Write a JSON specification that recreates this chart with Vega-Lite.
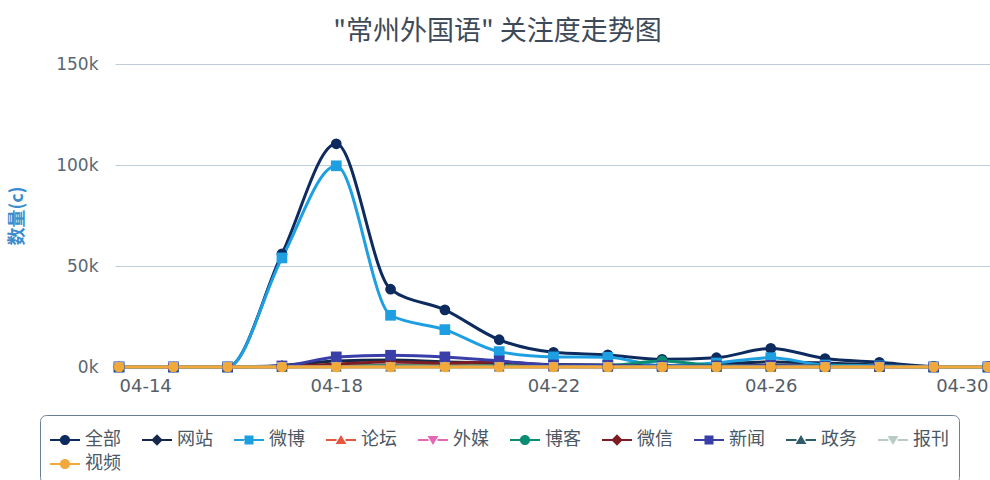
{
  "$schema": "https://vega.github.io/schema/vega-lite/v6.json",
  "width": 877,
  "height": 303,
  "autosize": "none",
  "padding": {"left": 115, "top": 64, "right": 0, "bottom": 113},
  "background": "white",
  "title": {
    "text": "\"常州外国语\" 关注度走势图",
    "font": "Noto Sans CJK SC",
    "fontSize": 27,
    "fontWeight": "normal",
    "color": "#3e4a58",
    "anchor": "middle",
    "dx": -56,
    "offset": 9
  },
  "data": {
    "values": [
      {"date": "04-14", "series": "全部", "value": 0},
      {"date": "04-15", "series": "全部", "value": 0},
      {"date": "04-16", "series": "全部", "value": 0},
      {"date": "04-17", "series": "全部", "value": 56000},
      {"date": "04-18", "series": "全部", "value": 110500},
      {"date": "04-19", "series": "全部", "value": 38500},
      {"date": "04-20", "series": "全部", "value": 28300},
      {"date": "04-21", "series": "全部", "value": 13500},
      {"date": "04-22", "series": "全部", "value": 7300},
      {"date": "04-23", "series": "全部", "value": 6000},
      {"date": "04-24", "series": "全部", "value": 3800},
      {"date": "04-25", "series": "全部", "value": 4600},
      {"date": "04-26", "series": "全部", "value": 9200},
      {"date": "04-27", "series": "全部", "value": 4200},
      {"date": "04-28", "series": "全部", "value": 2300},
      {"date": "04-29", "series": "全部", "value": 300},
      {"date": "04-30", "series": "全部", "value": 200},
      {"date": "04-14", "series": "网站", "value": 0},
      {"date": "04-15", "series": "网站", "value": 0},
      {"date": "04-16", "series": "网站", "value": 0},
      {"date": "04-17", "series": "网站", "value": 800},
      {"date": "04-18", "series": "网站", "value": 3000},
      {"date": "04-19", "series": "网站", "value": 3500},
      {"date": "04-20", "series": "网站", "value": 2500},
      {"date": "04-21", "series": "网站", "value": 2000},
      {"date": "04-22", "series": "网站", "value": 1200},
      {"date": "04-23", "series": "网站", "value": 1000},
      {"date": "04-24", "series": "网站", "value": 800},
      {"date": "04-25", "series": "网站", "value": 1500},
      {"date": "04-26", "series": "网站", "value": 2500},
      {"date": "04-27", "series": "网站", "value": 2000},
      {"date": "04-28", "series": "网站", "value": 1000},
      {"date": "04-29", "series": "网站", "value": 200},
      {"date": "04-30", "series": "网站", "value": 100},
      {"date": "04-14", "series": "微博", "value": 0},
      {"date": "04-15", "series": "微博", "value": 0},
      {"date": "04-16", "series": "微博", "value": 0},
      {"date": "04-17", "series": "微博", "value": 54000},
      {"date": "04-18", "series": "微博", "value": 99600},
      {"date": "04-19", "series": "微博", "value": 25600},
      {"date": "04-20", "series": "微博", "value": 18500},
      {"date": "04-21", "series": "微博", "value": 7600},
      {"date": "04-22", "series": "微博", "value": 5000},
      {"date": "04-23", "series": "微博", "value": 4800},
      {"date": "04-24", "series": "微博", "value": 600},
      {"date": "04-25", "series": "微博", "value": 2000},
      {"date": "04-26", "series": "微博", "value": 4600},
      {"date": "04-27", "series": "微博", "value": 1000},
      {"date": "04-28", "series": "微博", "value": 600},
      {"date": "04-29", "series": "微博", "value": 0},
      {"date": "04-30", "series": "微博", "value": 0},
      {"date": "04-14", "series": "论坛", "value": 0},
      {"date": "04-15", "series": "论坛", "value": 0},
      {"date": "04-16", "series": "论坛", "value": 0},
      {"date": "04-17", "series": "论坛", "value": 100},
      {"date": "04-18", "series": "论坛", "value": 400},
      {"date": "04-19", "series": "论坛", "value": 600},
      {"date": "04-20", "series": "论坛", "value": 500},
      {"date": "04-21", "series": "论坛", "value": 700},
      {"date": "04-22", "series": "论坛", "value": 300},
      {"date": "04-23", "series": "论坛", "value": 200},
      {"date": "04-24", "series": "论坛", "value": 100},
      {"date": "04-25", "series": "论坛", "value": 100},
      {"date": "04-26", "series": "论坛", "value": 200},
      {"date": "04-27", "series": "论坛", "value": 100},
      {"date": "04-28", "series": "论坛", "value": 100},
      {"date": "04-29", "series": "论坛", "value": 0},
      {"date": "04-30", "series": "论坛", "value": 0},
      {"date": "04-14", "series": "外媒", "value": 0},
      {"date": "04-15", "series": "外媒", "value": 0},
      {"date": "04-16", "series": "外媒", "value": 0},
      {"date": "04-17", "series": "外媒", "value": 0},
      {"date": "04-18", "series": "外媒", "value": 100},
      {"date": "04-19", "series": "外媒", "value": 100},
      {"date": "04-20", "series": "外媒", "value": 100},
      {"date": "04-21", "series": "外媒", "value": 100},
      {"date": "04-22", "series": "外媒", "value": 0},
      {"date": "04-23", "series": "外媒", "value": 0},
      {"date": "04-24", "series": "外媒", "value": 0},
      {"date": "04-25", "series": "外媒", "value": 0},
      {"date": "04-26", "series": "外媒", "value": 0},
      {"date": "04-27", "series": "外媒", "value": 0},
      {"date": "04-28", "series": "外媒", "value": 0},
      {"date": "04-29", "series": "外媒", "value": 0},
      {"date": "04-30", "series": "外媒", "value": 0},
      {"date": "04-14", "series": "博客", "value": 0},
      {"date": "04-15", "series": "博客", "value": 0},
      {"date": "04-16", "series": "博客", "value": 0},
      {"date": "04-17", "series": "博客", "value": 200},
      {"date": "04-18", "series": "博客", "value": 500},
      {"date": "04-19", "series": "博客", "value": 600},
      {"date": "04-20", "series": "博客", "value": 500},
      {"date": "04-21", "series": "博客", "value": 600},
      {"date": "04-22", "series": "博客", "value": 500},
      {"date": "04-23", "series": "博客", "value": 700},
      {"date": "04-24", "series": "博客", "value": 3000},
      {"date": "04-25", "series": "博客", "value": 800},
      {"date": "04-26", "series": "博客", "value": 600},
      {"date": "04-27", "series": "博客", "value": 500},
      {"date": "04-28", "series": "博客", "value": 300},
      {"date": "04-29", "series": "博客", "value": 100},
      {"date": "04-30", "series": "博客", "value": 0},
      {"date": "04-14", "series": "微信", "value": 0},
      {"date": "04-15", "series": "微信", "value": 0},
      {"date": "04-16", "series": "微信", "value": 0},
      {"date": "04-17", "series": "微信", "value": 300},
      {"date": "04-18", "series": "微信", "value": 1500},
      {"date": "04-19", "series": "微信", "value": 2500},
      {"date": "04-20", "series": "微信", "value": 2000},
      {"date": "04-21", "series": "微信", "value": 2500},
      {"date": "04-22", "series": "微信", "value": 800},
      {"date": "04-23", "series": "微信", "value": 500},
      {"date": "04-24", "series": "微信", "value": 300},
      {"date": "04-25", "series": "微信", "value": 300},
      {"date": "04-26", "series": "微信", "value": 500},
      {"date": "04-27", "series": "微信", "value": 300},
      {"date": "04-28", "series": "微信", "value": 200},
      {"date": "04-29", "series": "微信", "value": 0},
      {"date": "04-30", "series": "微信", "value": 0},
      {"date": "04-14", "series": "新闻", "value": 0},
      {"date": "04-15", "series": "新闻", "value": 0},
      {"date": "04-16", "series": "新闻", "value": 0},
      {"date": "04-17", "series": "新闻", "value": 500},
      {"date": "04-18", "series": "新闻", "value": 5000},
      {"date": "04-19", "series": "新闻", "value": 5800},
      {"date": "04-20", "series": "新闻", "value": 5000},
      {"date": "04-21", "series": "新闻", "value": 3000},
      {"date": "04-22", "series": "新闻", "value": 1000},
      {"date": "04-23", "series": "新闻", "value": 800},
      {"date": "04-24", "series": "新闻", "value": 500},
      {"date": "04-25", "series": "新闻", "value": 500},
      {"date": "04-26", "series": "新闻", "value": 800},
      {"date": "04-27", "series": "新闻", "value": 300},
      {"date": "04-28", "series": "新闻", "value": 200},
      {"date": "04-29", "series": "新闻", "value": 0},
      {"date": "04-30", "series": "新闻", "value": 0},
      {"date": "04-14", "series": "政务", "value": 0},
      {"date": "04-15", "series": "政务", "value": 0},
      {"date": "04-16", "series": "政务", "value": 0},
      {"date": "04-17", "series": "政务", "value": 0},
      {"date": "04-18", "series": "政务", "value": 100},
      {"date": "04-19", "series": "政务", "value": 100},
      {"date": "04-20", "series": "政务", "value": 100},
      {"date": "04-21", "series": "政务", "value": 100},
      {"date": "04-22", "series": "政务", "value": 100},
      {"date": "04-23", "series": "政务", "value": 0},
      {"date": "04-24", "series": "政务", "value": 0},
      {"date": "04-25", "series": "政务", "value": 0},
      {"date": "04-26", "series": "政务", "value": 0},
      {"date": "04-27", "series": "政务", "value": 0},
      {"date": "04-28", "series": "政务", "value": 0},
      {"date": "04-29", "series": "政务", "value": 0},
      {"date": "04-30", "series": "政务", "value": 0},
      {"date": "04-14", "series": "报刊", "value": 0},
      {"date": "04-15", "series": "报刊", "value": 0},
      {"date": "04-16", "series": "报刊", "value": 0},
      {"date": "04-17", "series": "报刊", "value": 0},
      {"date": "04-18", "series": "报刊", "value": 0},
      {"date": "04-19", "series": "报刊", "value": 0},
      {"date": "04-20", "series": "报刊", "value": 0},
      {"date": "04-21", "series": "报刊", "value": 0},
      {"date": "04-22", "series": "报刊", "value": 0},
      {"date": "04-23", "series": "报刊", "value": 0},
      {"date": "04-24", "series": "报刊", "value": 0},
      {"date": "04-25", "series": "报刊", "value": 0},
      {"date": "04-26", "series": "报刊", "value": 0},
      {"date": "04-27", "series": "报刊", "value": 0},
      {"date": "04-28", "series": "报刊", "value": 0},
      {"date": "04-29", "series": "报刊", "value": 0},
      {"date": "04-30", "series": "报刊", "value": 0},
      {"date": "04-14", "series": "视频", "value": 0},
      {"date": "04-15", "series": "视频", "value": 0},
      {"date": "04-16", "series": "视频", "value": 0},
      {"date": "04-17", "series": "视频", "value": 0},
      {"date": "04-18", "series": "视频", "value": 0},
      {"date": "04-19", "series": "视频", "value": 0},
      {"date": "04-20", "series": "视频", "value": 0},
      {"date": "04-21", "series": "视频", "value": 0},
      {"date": "04-22", "series": "视频", "value": 0},
      {"date": "04-23", "series": "视频", "value": 0},
      {"date": "04-24", "series": "视频", "value": 0},
      {"date": "04-25", "series": "视频", "value": 0},
      {"date": "04-26", "series": "视频", "value": 0},
      {"date": "04-27", "series": "视频", "value": 0},
      {"date": "04-28", "series": "视频", "value": 0},
      {"date": "04-29", "series": "视频", "value": 0},
      {"date": "04-30", "series": "视频", "value": 0}
    ]
  },
  "encoding": {
    "x": {
      "field": "date",
      "type": "ordinal",
      "scale": {"type": "point", "padding": 0.074},
      "axis": {
        "values": ["04-14", "04-18", "04-22", "04-26", "04-30"],
        "labelAngle": 0,
        "labelAlign": {
          "condition": [
            {"test": "datum.value === '04-14'", "value": "left"},
            {"test": "datum.value === '04-30'", "value": "right"}
          ],
          "value": "center"
        },
        "labelFont": "DejaVu Sans",
        "labelFontSize": 18,
        "labelColor": "#555e68",
        "labelPadding": 10,
        "domain": false,
        "ticks": false,
        "grid": false,
        "title": null
      }
    },
    "y": {
      "field": "value",
      "type": "quantitative",
      "scale": {"domain": [0, 150000], "nice": false},
      "axis": {
        "values": [0, 50000, 100000, 150000],
        "labelExpr": "(datum.value / 1000) + 'k'",
        "labelFont": "DejaVu Sans",
        "labelFontSize": 17,
        "labelColor": "#5a6775",
        "labelPadding": 17,
        "domain": false,
        "ticks": false,
        "grid": true,
        "gridColor": "#bfcddb",
        "gridWidth": 1,
        "title": "数量(c)",
        "titleFont": "Noto Sans CJK SC",
        "titleFontSize": 18,
        "titleFontWeight": "bold",
        "titleColor": "#3a8ccc",
        "titleX": -98,
        "titleBaseline": "middle"
      }
    }
  },
  "layer": [
    {
      "mark": {"type": "line", "interpolate": "monotone", "strokeWidth": 3},
      "encoding": {
        "color": {
          "field": "series",
          "type": "nominal",
          "legend": null,
          "scale": {
            "domain": ["全部", "网站", "微博", "论坛", "外媒", "博客", "微信", "新闻", "政务", "报刊", "视频"],
            "range": ["#0d2b5e", "#13294b", "#1e9fe2", "#e8553d", "#e667b5", "#0b8d73", "#7d1c23", "#3a3ea8", "#2e5d68", "#b9cbc4", "#f2a93b"]
          }
        }
      }
    },
    {
      "mark": {"type": "point", "filled": true, "size": 115, "opacity": 1},
      "encoding": {
        "color": {
          "field": "series",
          "type": "nominal",
          "legend": null,
          "scale": {
            "domain": ["全部", "网站", "微博", "论坛", "外媒", "博客", "微信", "新闻", "政务", "报刊", "视频"],
            "range": ["#0d2b5e", "#13294b", "#1e9fe2", "#e8553d", "#e667b5", "#0b8d73", "#7d1c23", "#3a3ea8", "#2e5d68", "#b9cbc4", "#f2a93b"]
          }
        },
        "shape": {
          "field": "series",
          "type": "nominal",
          "legend": null,
          "scale": {
            "domain": ["全部", "网站", "微博", "论坛", "外媒", "博客", "微信", "新闻", "政务", "报刊", "视频"],
            "range": ["circle", "diamond", "square", "triangle-up", "triangle-down", "circle", "diamond", "square", "triangle-up", "triangle-down", "circle"]
          }
        }
      }
    },
    {
      "transform": [{"filter": "datum.value < 0"}],
      "mark": {"type": "point", "filled": true, "opacity": 1},
      "encoding": {
        "color": {
          "field": "series",
          "type": "nominal",
          "scale": {
            "domain": ["全部", "网站", "微博", "论坛", "外媒", "博客", "微信", "新闻", "政务", "报刊", "视频"],
            "range": ["#0d2b5e", "#13294b", "#1e9fe2", "#e8553d", "#e667b5", "#0b8d73", "#7d1c23", "#3a3ea8", "#2e5d68", "#b9cbc4", "#f2a93b"]
          },
          "legend": {
            "title": null,
            "orient": "none",
            "legendX": -75,
            "legendY": 351,
            "direction": "horizontal",
            "columns": 10,
            "symbolSize": 900,
            "symbolStrokeWidth": 0,
            "symbolOpacity": 1,
            "labelFont": "Noto Sans CJK SC",
            "labelFontSize": 18,
            "labelColor": "#4a5866",
            "labelOffset": 5,
            "labelLimit": 0,
            "columnPadding": 21,
            "rowPadding": 0,
            "padding": 10,
            "strokeColor": "#6b7f93",
            "cornerRadius": 6,
            "fillColor": "white"
          }
        },
        "shape": {
          "field": "series",
          "type": "nominal",
          "scale": {
            "domain": ["全部", "网站", "微博", "论坛", "外媒", "博客", "微信", "新闻", "政务", "报刊", "视频"],
            "range": [
              "M-1,-0.07H-0.3V0.07H-1Z M0.3,-0.07H1V0.07H0.3Z M0.34,0A0.34,0.34 0 1,1 -0.34,0A0.34,0.34 0 1,1 0.34,0Z",
              "M-1,-0.07H-0.3V0.07H-1Z M0.3,-0.07H1V0.07H0.3Z M0,-0.38L0.38,0L0,0.38L-0.38,0Z",
              "M-1,-0.07H-0.3V0.07H-1Z M0.3,-0.07H1V0.07H0.3Z M-0.3,-0.3H0.3V0.3H-0.3Z",
              "M-1,-0.07H-0.3V0.07H-1Z M0.3,-0.07H1V0.07H0.3Z M0,-0.33L0.36,0.27H-0.36Z",
              "M-1,-0.07H-0.3V0.07H-1Z M0.3,-0.07H1V0.07H0.3Z M-0.36,-0.27H0.36L0,0.33Z",
              "M-1,-0.07H-0.3V0.07H-1Z M0.3,-0.07H1V0.07H0.3Z M0.34,0A0.34,0.34 0 1,1 -0.34,0A0.34,0.34 0 1,1 0.34,0Z",
              "M-1,-0.07H-0.3V0.07H-1Z M0.3,-0.07H1V0.07H0.3Z M0,-0.38L0.38,0L0,0.38L-0.38,0Z",
              "M-1,-0.07H-0.3V0.07H-1Z M0.3,-0.07H1V0.07H0.3Z M-0.3,-0.3H0.3V0.3H-0.3Z",
              "M-1,-0.07H-0.3V0.07H-1Z M0.3,-0.07H1V0.07H0.3Z M0,-0.33L0.36,0.27H-0.36Z",
              "M-1,-0.07H-0.3V0.07H-1Z M0.3,-0.07H1V0.07H0.3Z M-0.36,-0.27H0.36L0,0.33Z",
              "M-1,-0.07H-0.3V0.07H-1Z M0.3,-0.07H1V0.07H0.3Z M0.34,0A0.34,0.34 0 1,1 -0.34,0A0.34,0.34 0 1,1 0.34,0Z"
            ]
          }
        }
      }
    }
  ],
  "resolve": {"scale": {"color": "independent", "shape": "independent"}},
  "config": {
    "view": {"stroke": null}
  }
}
